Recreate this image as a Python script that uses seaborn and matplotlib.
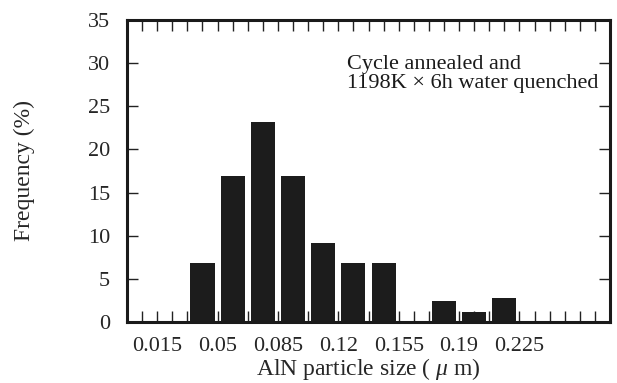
import numpy as np
import matplotlib
matplotlib.use("Agg")
import matplotlib.pyplot as plt
import seaborn as sns

# AlN particle size bins (um) and measured frequency (%)
bin_edges = [0.0325, 0.05, 0.0675, 0.085, 0.1025, 0.12, 0.1375,
             0.155, 0.1725, 0.19, 0.2075, 0.225]
frequency = [6.8, 16.9, 23.2, 16.9, 9.1, 6.8, 6.8, 0.0, 2.4, 1.2, 2.8]
x_tick_labels = ["0.015", "0.05", "0.085", "0.12", "0.155", "0.19", "0.225"]
y_ticks = [0, 5, 10, 15, 20, 25, 30, 35]

bin_centers = [(a + b) / 2 for a, b in zip(bin_edges[:-1], bin_edges[1:])]

sns.set_style("ticks")
plt.rcParams["font.family"] = ["Liberation Serif", "DejaVu Serif"]
plt.rcParams["mathtext.fontset"] = "custom"
plt.rcParams["mathtext.it"] = "Liberation Serif:italic"
plt.rcParams["mathtext.rm"] = "Liberation Serif"

fig = plt.figure(figsize=(6.17, 3.83), dpi=100)
ax = fig.add_axes([0.2058, 0.1593, 0.7829, 0.7885])

sns.histplot(x=bin_centers, weights=frequency, bins=bin_edges, shrink=0.8,
             color="#1c1c1c", alpha=1, edgecolor="none", ax=ax)

# axis spans 16 bins, ticks on every bin edge and bin centre
half = (bin_edges[1] - bin_edges[0]) / 2
x_lo = bin_edges[0] - 4 * half
x_hi = x_lo + 32 * half
ax.set_xlim(x_lo, x_hi)
ax.set_ylim(0, 35)

tick_pos = x_lo + half * np.arange(1, 32)
label_pos = [float(t) for t in x_tick_labels]
labels = []
for p in tick_pos:
    hit = [l for l, v in zip(x_tick_labels, label_pos) if np.isclose(p, v)]
    labels.append(hit[0] if hit else "")
ax.set_xticks(tick_pos)
ax.set_xticklabels(labels)
ax.set_yticks(y_ticks)

ax.tick_params(axis="both", direction="in", length=8, width=1.0,
               top=True, right=True, labelsize=16, color="#222222")
ax.tick_params(axis="x", pad=11)
ax.tick_params(axis="y", pad=12)
for s in ax.spines.values():
    s.set_linewidth(2.2)
    s.set_color("#1a1a1a")

ax.set_xlabel("AlN particle size ( $\\mu$ m)", fontsize=17, labelpad=0)
ax.set_ylabel("Frequency (%)", fontsize=17, labelpad=38)

ax.text(0.455, 0.885, "Cycle annealed and\n1198K \u00d7 6h water quenched",
        transform=ax.transAxes, ha="left", va="top", fontsize=16,
        linespacing=1.05, color="#1a1a1a")

fig.savefig("out.png", dpi=100, facecolor="white")
